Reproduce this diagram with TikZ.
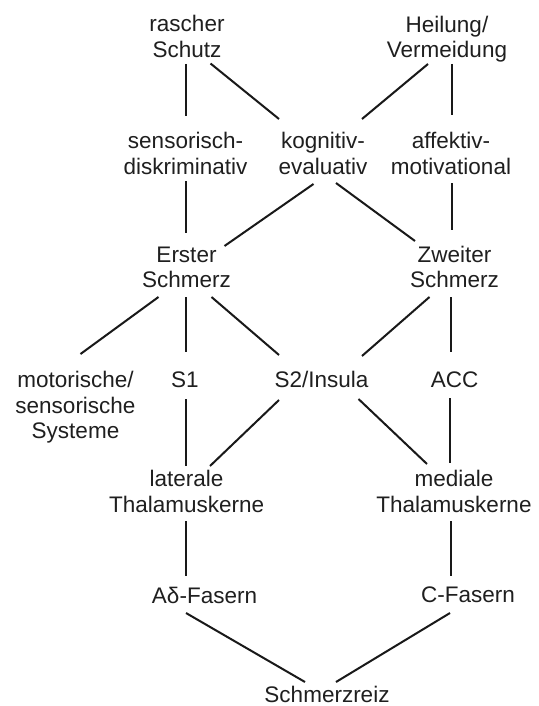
\documentclass[tikz,border=0pt]{standalone}
\usepackage{fontspec}
\setmainfont{Liberation Sans}
\begin{document}
\begin{tikzpicture}[x=1pt,y=-1pt,
  lbl/.style={font=\fontsize{22.5}{25.5}\selectfont, align=center, inner sep=0pt, text=black!88},
  conn/.style={line width=2pt, black!90}]
\useasboundingbox[fill=white] (0,0) rectangle (538,706);
% nodes
\node[lbl] (rs)  at (187,36.7)   {rascher\\Schutz};
\node[lbl] (hv)  at (447,39)     {Heilung/\\Vermeidung};
\node[lbl] (sd)  at (185.5,153.7) {sensorisch-\\diskriminativ};
\node[lbl] (kog) at (323,153.7)  {kognitiv-\\evaluativ};
\node[lbl] (am)  at (451,153.7)  {affektiv-\\motivational};
\node[lbl] (es)  at (186.5,267.2) {Erster\\Schmerz};
\node[lbl] (zs)  at (454.5,267.2) {Zweiter\\Schmerz};
\node[lbl] (mss) at (75.5,407.6) {motorische/\\sensorische\\Systeme};
\node[lbl] (s1)  at (185,379.5)  {S1};
\node[lbl] (s2)  at (321.5,379.5) {S2/Insula};
\node[lbl] (acc) at (454.5,379.5) {ACC};
\node[lbl] (lt)  at (186.6,491.7) {laterale\\Thalamuskerne};
\node[lbl] (mt)  at (454,491.7)  {mediale\\Thalamuskerne};
\node[lbl] (ad)  at (204.5,595)  {Aδ-Fasern};
\node[lbl] (cf)  at (468,595)    {C-Fasern};
\node[lbl] (sr)  at (327,694.3)  {Schmerzreiz};
% connectors
\draw[conn] ([shift={(-1,27.3)}]rs.center) -- ([shift={(0.5,-37.7)}]sd.center);
\draw[conn] ([shift={(23.5,26.8)}]rs.center) -- ([shift={(-44,-34.7)}]kog.center);
\draw[conn] ([shift={(-19,25)}]hv.center) -- ([shift={(39,-34.7)}]kog.center);
\draw[conn] ([shift={(5,25)}]hv.center) -- ([shift={(1,-38.7)}]am.center);
\draw[conn] ([shift={(0.5,27.3)}]sd.center) -- ([shift={(-0.5,-34.2)}]es.center);
\draw[conn] ([shift={(-9.5,30.3)}]kog.center) -- ([shift={(38,-21.2)}]es.center);
\draw[conn] ([shift={(13,29.3)}]kog.center) -- ([shift={(-39.5,-26.2)}]zs.center);
\draw[conn] ([shift={(1,29.3)}]am.center) -- ([shift={(-2.5,-37.2)}]zs.center);
\draw[conn] ([shift={(-28,29.8)}]es.center) -- ([shift={(5,-53.6)}]mss.center);
\draw[conn] ([shift={(-1,29.8)}]es.center) -- ([shift={(0.5,-27.5)}]s1.center);
\draw[conn] ([shift={(25,29.8)}]es.center) -- ([shift={(-42.5,-24.5)}]s2.center);
\draw[conn] ([shift={(-25,29.8)}]zs.center) -- ([shift={(40.5,-23.5)}]s2.center);
\draw[conn] ([shift={(-3.5,29.8)}]zs.center) -- ([shift={(-3.5,-27.5)}]acc.center);
\draw[conn] ([shift={(0.5,19.5)}]s1.center) -- ([shift={(-1.1,-25.7)}]lt.center);
\draw[conn] ([shift={(-42.5,20.5)}]s2.center) -- ([shift={(23.4,-25.7)}]lt.center);
\draw[conn] ([shift={(37,19.5)}]s2.center) -- ([shift={(-27,-27.7)}]mt.center);
\draw[conn] ([shift={(-4.5,18.5)}]acc.center) -- ([shift={(-4,-28.7)}]mt.center);
\draw[conn] ([shift={(-1.1,29.3)}]lt.center) -- ([shift={(-19,-19)}]ad.center);
\draw[conn] ([shift={(-3.5,29.3)}]mt.center) -- ([shift={(-17.5,-19)}]cf.center);
\draw[conn] ([shift={(-18.5,18)}]ad.center) -- ([shift={(-22,-12.3)}]sr.center);
\draw[conn] ([shift={(-18,18)}]cf.center) -- ([shift={(9,-12.3)}]sr.center);
\end{tikzpicture}
\end{document}
